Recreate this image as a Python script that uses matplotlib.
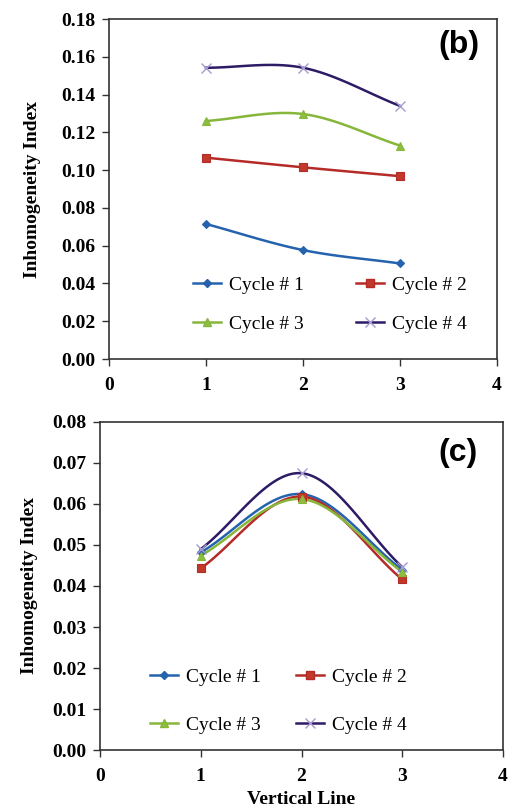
import numpy as np
import matplotlib

matplotlib.use("Agg")
import matplotlib.pyplot as plt
from matplotlib.lines import Line2D

# values
lines_x = [1, 2, 3]
labels = ["Cycle # 1", "Cycle # 2", "Cycle # 3", "Cycle # 4"]

b_cycle1 = [0.0715, 0.0577, 0.0506]
b_cycle2 = [0.1066, 0.1015, 0.0968]
b_cycle3 = [0.1260, 0.1297, 0.1130]
b_cycle4 = [0.1542, 0.1542, 0.1340]

c_cycle1 = [0.0482, 0.0624, 0.0439]
c_cycle2 = [0.0443, 0.0618, 0.0416]
c_cycle3 = [0.0474, 0.0612, 0.0434]
c_cycle4 = [0.0490, 0.0675, 0.0446]

colors = ["#2563AE", "#B52B27", "#86B63A", "#2E1B66"]
mcolors = ["#2563AE", "#C0392B", "#8DBE3E", "#A69AD0"]
markers = ["D", "s", "^", "x"]
msizes = [4, 5.5, 6, 7]

SERIF = "Liberation Serif"


def smooth(xs, ys, n=40):
    # catmull-rom, roughly what the spreadsheet "smoothed line" does
    x = np.asarray(xs, float)
    y = np.asarray(ys, float)
    px = np.concatenate([[2 * x[0] - x[1]], x, [2 * x[-1] - x[-2]]])
    py = np.concatenate([[2 * y[0] - y[1]], y, [2 * y[-1] - y[-2]]])
    out_x, out_y = [], []
    t = np.linspace(0, 1, n)
    for i in range(1, len(px) - 2):
        for p, out in ((px, out_x), (py, out_y)):
            p0, p1, p2, p3 = p[i - 1], p[i], p[i + 1], p[i + 2]
            seg = 0.5 * ((2 * p1) + (-p0 + p2) * t
                         + (2 * p0 - 5 * p1 + 4 * p2 - p3) * t ** 2
                         + (-p0 + 3 * p1 - 3 * p2 + p3) * t ** 3)
            out.extend(seg)
    return out_x, out_y


def panel(ax, series, ymax, ystep, tag, tag_pos, leg_anchor, leg_rows, leg_cols,
          ylab_pad):
    handles = []
    for i, ys in enumerate(series):
        sx, sy = smooth(lines_x, ys)
        ax.plot(sx, sy, color=colors[i], lw=1.8, zorder=2)
        ax.plot(lines_x, ys, linestyle="none", marker=markers[i],
                markersize=msizes[i], color=mcolors[i],
                markeredgecolor=colors[i] if i < 3 else mcolors[i],
                markeredgewidth=0.8 if i < 3 else 1.0, zorder=3)
        handles.append(Line2D([], [], color=colors[i], lw=1.8, marker=markers[i],
                              markersize=msizes[i], markerfacecolor=mcolors[i],
                              markeredgecolor=colors[i] if i < 3 else mcolors[i]))
    ax.set_xlim(0, 4)
    ax.set_ylim(0, ymax)
    ax.set_xticks([0, 1, 2, 3, 4])
    ax.set_yticks(np.arange(0, ymax + ystep / 2, ystep))
    ax.yaxis.set_major_formatter(plt.FormatStrFormatter("%.2f"))
    ax.tick_params(direction="out", length=5, width=1, colors="#333333",
                   labelcolor="black", labelsize=14, pad=5)
    ax.tick_params(axis="x", pad=8)
    for lab in ax.get_xticklabels() + ax.get_yticklabels():
        lab.set_fontfamily(SERIF)
        lab.set_fontweight("bold")
    for sp in ax.spines.values():
        sp.set_color("#333333")
        sp.set_linewidth(1.2)
    ax.set_ylabel("Inhomogeneity Index", fontfamily=SERIF, fontweight="bold",
                  fontsize=14, labelpad=ylab_pad)
    ax.text(tag_pos[0], tag_pos[1], tag, transform=ax.transAxes, ha="right",
            va="center", fontfamily="Liberation Sans", fontweight="bold", fontsize=23)
    # row-wise order: 1 2 / 3 4
    order = [0, 2, 1, 3]
    ax.legend([handles[k] for k in order], [labels[k] for k in order], ncol=2,
              frameon=False, loc="upper left", bbox_to_anchor=leg_anchor,
              borderpad=0, borderaxespad=0,
              prop={"family": SERIF, "size": 14},
              handlelength=1.45, columnspacing=leg_cols, labelspacing=leg_rows,
              handletextpad=0.4)


fig = plt.figure(figsize=(5.13, 8.09), dpi=100)
ax_b = fig.add_axes([0.2125, 0.5562, 0.756, 0.4203])
ax_c = fig.add_axes([0.195, 0.0729, 0.7855, 0.4055])

panel(ax_b, [b_cycle1, b_cycle2, b_cycle3, b_cycle4], 0.18, 0.02, "(b)",
      (0.956, 0.925), (0.216, 0.2235 + 7 / 340), 1.1, 2.7, 14)
panel(ax_c, [c_cycle1, c_cycle2, c_cycle3, c_cycle4], 0.08, 0.01, "(c)",
      (0.938, 0.905), (0.124, 0.229 + 7 / 328), 1.6, 1.8, 10)
ax_c.set_xlabel("Vertical Line", fontfamily=SERIF, fontweight="bold", fontsize=14,
                labelpad=4)

fig.savefig("out.png", dpi=100)
